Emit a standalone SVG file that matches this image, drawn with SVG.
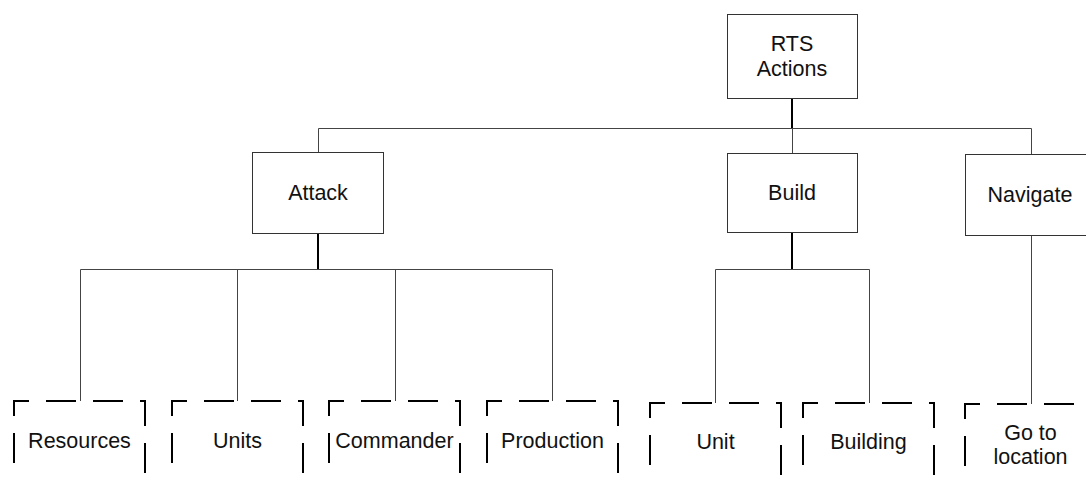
<svg xmlns="http://www.w3.org/2000/svg" width="1086" height="477" viewBox="0 0 1086 477">
  <style>
    .box { fill: #ffffff; stroke: #333333; stroke-width: 1; }
    .leaf { fill: none; stroke: #000000; stroke-width: 2; stroke-dasharray: 30 17; stroke-dashoffset: 15; }
    .label { font-family: "Liberation Sans", Arial, sans-serif; font-size: 21.5px; fill: #111111; text-anchor: middle; }
    .wire { fill: none; stroke: #444444; stroke-width: 1; }
    .trunk { fill: none; stroke: #000000; stroke-width: 2; }
  </style>

  <!-- connectors -->
  <g id="connectors">
    <line class="trunk" x1="792" y1="98" x2="792" y2="128"/>
    <path class="wire" d="M318.5 152 V128.5 H1031.5 V154"/>
    <line class="wire" x1="792.5" y1="128" x2="792.5" y2="153"/>

    <line class="trunk" x1="318" y1="233" x2="318" y2="269"/>
    <path class="wire" d="M80.5 401 V269.5 H552.5 V401"/>
    <line class="wire" x1="237.5" y1="269" x2="237.5" y2="401"/>
    <line class="wire" x1="395.5" y1="269" x2="395.5" y2="401"/>

    <line class="trunk" x1="792" y1="232" x2="792" y2="269"/>
    <path class="wire" d="M715.5 403 V269.5 H869.5 V403"/>

    <line class="wire" x1="1031.5" y1="235" x2="1031.5" y2="404"/>
  </g>

  <!-- root -->
  <g id="rts-actions">
    <rect class="box" x="727.5" y="14.5" width="130" height="84"/>
    <text class="label" x="792" y="51">RTS</text>
    <text class="label" x="792" y="76">Actions</text>
  </g>

  <!-- action categories -->
  <g id="attack">
    <rect class="box" x="252.5" y="152.5" width="131" height="81"/>
    <text class="label" x="318" y="200">Attack</text>
  </g>
  <g id="build">
    <rect class="box" x="727.5" y="153.5" width="130" height="79"/>
    <text class="label" x="792" y="200">Build</text>
  </g>
  <g id="navigate">
    <rect class="box" x="965.5" y="154.5" width="130" height="81"/>
    <text class="label" x="1030" y="202">Navigate</text>
  </g>

  <!-- leaf actions (dashed) -->
  <g id="resources">
    <rect class="leaf" x="14" y="401" width="131" height="80.5"/>
    <text class="label" x="79.5" y="448">Resources</text>
  </g>
  <g id="units">
    <rect class="leaf" x="172" y="401" width="131" height="80.5"/>
    <text class="label" x="237.5" y="448">Units</text>
  </g>
  <g id="commander">
    <rect class="leaf" x="329" y="401" width="131" height="80.5"/>
    <text class="label" x="394.5" y="448">Commander</text>
  </g>
  <g id="production">
    <rect class="leaf" x="487" y="401" width="131" height="80.5"/>
    <text class="label" x="552.5" y="448">Production</text>
  </g>
  <g id="unit">
    <rect class="leaf" x="650" y="403" width="131" height="80.5"/>
    <text class="label" x="715.5" y="449">Unit</text>
  </g>
  <g id="building">
    <rect class="leaf" x="803" y="403" width="131" height="80.5"/>
    <text class="label" x="868.5" y="449">Building</text>
  </g>
  <g id="go-to-location">
    <rect class="leaf" x="965" y="404" width="131" height="80.5"/>
    <text class="label" x="1030.5" y="440">Go to</text>
    <text class="label" x="1030.5" y="464">location</text>
  </g>
</svg>
